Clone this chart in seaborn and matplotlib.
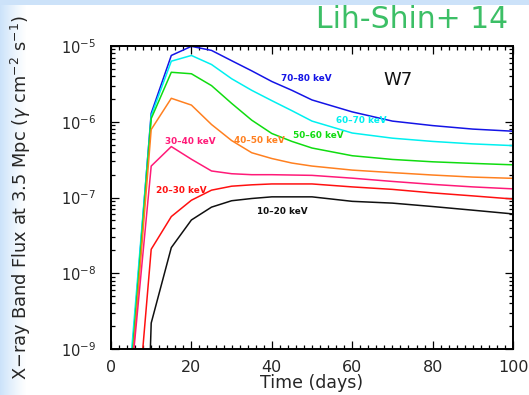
import numpy as np
import pandas as pd
import matplotlib
matplotlib.use("Agg")
import matplotlib.pyplot as plt
from matplotlib.ticker import (FixedLocator, LogFormatterMathtext, MultipleLocator,
                               NullFormatter)
import seaborn as sns

# Light curves of the W7 model, band-integrated X-ray flux at 3.5 Mpc
times = [5, 10, 15, 20, 25, 30, 35, 40, 45, 50, 60, 70, 80, 90, 100]

flux_70_80 = [6e-10, 1.29e-6, 7.5e-6, 9.9e-6, 8.75e-6, 6.4e-6, 4.7e-6, 3.4e-6, 2.6e-6,
              1.94e-6, 1.35e-6, 1.02e-6, 8.9e-7, 8.0e-7, 7.5e-7]
flux_60_70 = [8e-10, 1.2e-6, 6.3e-6, 7.5e-6, 5.7e-6, 3.7e-6, 2.6e-6, 1.9e-6, 1.4e-6,
              1.02e-6, 7.1e-7, 6.07e-7, 5.5e-7, 5.1e-7, 4.84e-7]
flux_50_60 = [5e-10, 1.1e-6, 4.5e-6, 4.3e-6, 3.0e-6, 1.75e-6, 1.05e-6, 7.0e-7, 5.5e-7,
              4.5e-7, 3.56e-7, 3.18e-7, 2.96e-7, 2.82e-7, 2.7e-7]
flux_40_50 = [4e-10, 7.9e-7, 2.04e-6, 1.66e-6, 9.2e-7, 5.65e-7, 3.9e-7, 3.27e-7, 2.85e-7,
              2.6e-7, 2.3e-7, 2.13e-7, 1.98e-7, 1.86e-7, 1.79e-7]
flux_30_40 = [4e-10, 2.6e-7, 4.7e-7, 3.2e-7, 2.24e-7, 2.06e-7, 2.0e-7, 2.0e-7, 1.98e-7,
              1.96e-7, 1.8e-7, 1.63e-7, 1.49e-7, 1.38e-7, 1.3e-7]
flux_20_30 = [1.5e-11, 2.07e-8, 5.6e-8, 9.2e-8, 1.25e-7, 1.41e-7, 1.47e-7, 1.51e-7, 1.51e-7,
              1.51e-7, 1.38e-7, 1.28e-7, 1.15e-7, 1.05e-7, 9.55e-8]
flux_10_20 = [1e-17, 2.2e-9, 2.18e-8, 5.05e-8, 7.46e-8, 9.06e-8, 9.7e-8, 1.02e-7, 1.02e-7,
              1.02e-7, 8.9e-8, 8.43e-8, 7.6e-8, 6.8e-8, 6.07e-8]

bands = ["70–80 keV", "60–70 keV", "50–60 keV", "40–50 keV",
         "30–40 keV", "20–30 keV", "10–20 keV"]
band_flux = [flux_70_80, flux_60_70, flux_50_60, flux_40_50,
             flux_30_40, flux_20_30, flux_10_20]
band_colors = ["#1414e6", "#00f0f0", "#10dc10", "#ff8020",
               "#ff1a78", "#ff1010", "#101010"]

# label anchor positions (time, flux) for each band
label_t = [42.2, 55.9, 45.3, 30.6, 13.4, 11.3, 36.3]
label_f = [3.75e-6, 1.03e-6, 6.6e-7, 5.65e-7, 5.5e-7, 1.25e-7, 6.5e-8]

y_major = [1e-9, 1e-8, 1e-7, 1e-6, 1e-5]

df = pd.DataFrame({
    "time": np.tile(times, len(bands)),
    "flux": np.concatenate(band_flux),
    "band": np.repeat(bands, len(times)),
})

sns.set_style("ticks")
plt.rcParams["font.family"] = ["DejaVu Sans"]

W, H = 529, 395
fig = plt.figure(figsize=(W / 100, H / 100), dpi=100)

# slide-style background: pale blue strip on top and fading band on the left
bg = np.ones((H, W, 3))
pale = np.array([0.80, 0.89, 0.98])
xs = np.arange(W)
fade = np.clip(1 - xs / 26.0, 0, 1) ** 1.2
for c in range(3):
    bg[:, :, c] = 1 - fade[None, :] * (1 - pale[c])
bg[:5, :, :] = pale
bg_ax = fig.add_axes([0, 0, 1, 1], zorder=-10)
bg_ax.imshow(bg, aspect="auto", interpolation="bilinear")
bg_ax.axis("off")

ax = fig.add_axes([111 / W, 46 / H, 402 / W, 303 / H])
ax.set_facecolor("white")

sns.lineplot(data=df, x="time", y="flux", hue="band", hue_order=bands,
             palette=dict(zip(bands, band_colors)), linewidth=1.1,
             legend=False, ax=ax, sort=False)

ax.set_yscale("log")
ax.set_xlim(0, 100)
ax.set_ylim(1e-9, 1e-5)

for name, t, f, col in zip(bands, label_t, label_f, band_colors):
    ax.text(t, f, name, color=col, fontsize=6.4, fontweight="bold",
            ha="left", va="center")

ax.text(71.5, 3.6e-6, "W7", fontsize=13, ha="center", va="center", color="#111111")

# minor ticks at 2..9 within each decade shown
y_minor = [m * d for d in y_major[:-1] for m in range(2, 10)]

ax.xaxis.set_major_locator(MultipleLocator(20))
ax.xaxis.set_minor_locator(MultipleLocator(2))
ax.yaxis.set_major_locator(FixedLocator(y_major))
ax.yaxis.set_major_formatter(LogFormatterMathtext())
ax.yaxis.set_minor_locator(FixedLocator(y_minor))
ax.yaxis.set_minor_formatter(NullFormatter())

ax.tick_params(which="both", direction="in", top=True, right=True,
               color="black", width=0.9)
ax.tick_params(which="major", length=6)
ax.tick_params(axis="x", which="major", pad=8, labelsize=11.5)
ax.tick_params(axis="y", which="major", pad=11, labelsize=10.5)
ax.tick_params(which="minor", length=3)
for s in ax.spines.values():
    s.set_visible(True)
    s.set_linewidth(1.4)
    s.set_color("black")

ax.set_xlabel("Time (days)", fontsize=12.5, labelpad=-1)
ax.set_ylabel(r"X$-$ray Band Flux at 3.5 Mpc ($\gamma$ cm$^{-2}$ s$^{-1}$)",
              fontsize=12.8, labelpad=20)

fig.text(508 / W, 1 - 20 / H, "Lih-Shin+ 14", color="#3cbf66", fontsize=21.5,
         ha="right", va="center")

fig.savefig("out.png", dpi=100)
